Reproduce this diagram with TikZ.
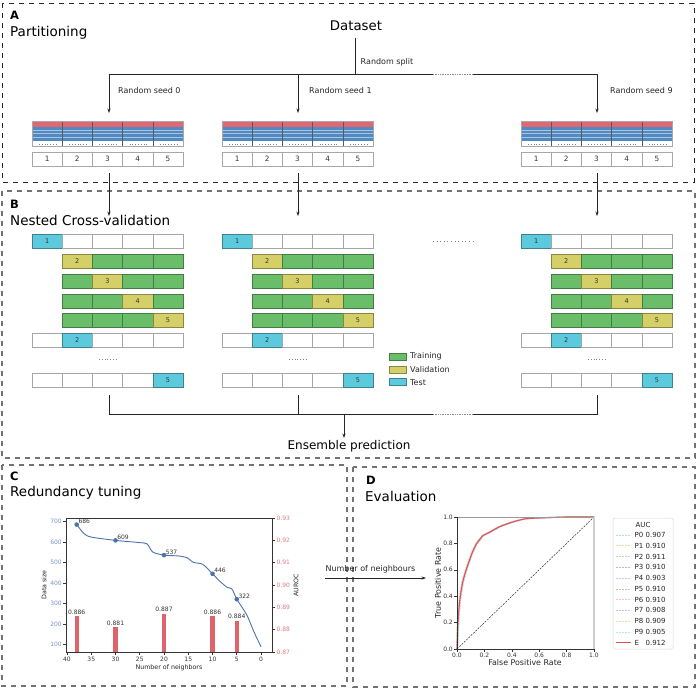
\documentclass[tikz,border=0pt]{standalone}
\usepackage{fontspec}
\setmainfont{DejaVu Sans}
\usetikzlibrary{arrows.meta}
\definecolor{redband}{HTML}{E06872}
\definecolor{blueband}{HTML}{5289C0}
\definecolor{bluelight}{HTML}{A7C6E6}
\definecolor{tstc}{HTML}{5DC9DC}
\definecolor{valc}{HTML}{D4CF67}
\definecolor{trnc}{HTML}{6ABE6A}
\definecolor{cellline}{HTML}{A8A8A8}
\definecolor{lineblue}{HTML}{4C72B0}
\definecolor{tickblue}{HTML}{7A97C9}
\definecolor{barred}{HTML}{E0626B}
\definecolor{tickred}{HTML}{E07A83}
\definecolor{rocred}{HTML}{E0505C}
\definecolor{c0}{HTML}{BBD7EA}
\definecolor{c1}{HTML}{F7CFA4}
\definecolor{c2}{HTML}{BDD6B6}
\definecolor{c3}{HTML}{D8AEC0}
\definecolor{c4}{HTML}{CFC9E8}
\definecolor{c5}{HTML}{D0BDB0}
\definecolor{c6}{HTML}{F4C4D6}
\definecolor{c7}{HTML}{C4C4C4}
\definecolor{c8}{HTML}{E2E2AC}
\definecolor{c9}{HTML}{B8E8EE}

\tikzset{
  conn/.style={line width=0.8pt, draw=black!85},
  arr/.style={conn, -{Stealth[length=4.5pt,width=3.2pt]}},
  dotline/.style={line width=0.8pt, draw=black!45, dash pattern=on 0.8pt off 0.9pt},
  dotsmall/.style={line width=0.6pt, draw=black!50, dash pattern=on 0.6pt off 2.2pt},
  panelA/.style={draw=black!85, line width=0.7pt, dash pattern=on 5pt off 5pt},
  panel/.style={draw=black!55, line width=1.1pt, dash pattern=on 5pt off 5pt},
  heading/.style={font=\fontsize{13.5}{16}\selectfont, inner sep=0, anchor=base west},
  letter/.style={font=\fontsize{11.5}{13}\selectfont\bfseries, inner sep=0, anchor=base west},
  lbl8/.style={font=\fontsize{8}{9}\selectfont, inner sep=0, text=black!85},
  cvcell/.style={minimum width=30.2pt, minimum height=14pt, inner sep=0, outer sep=0, line width=0.6pt, font=\fontsize{6.5}{7}\selectfont, text=black!80},
  numcell/.style={cvcell, draw=cellline, font=\fontsize{7.3}{8}\selectfont},
  swatchbox/.style={minimum width=17pt, minimum height=7pt, inner sep=0, line width=0.6pt},
  axis/.style={draw=black!80, line width=0.6pt},
  ticklbl/.style={font=\fontsize{6}{7}\selectfont, inner sep=0, text=black!80},
  axlbl/.style={font=\fontsize{6.3}{7}\selectfont, inner sep=0, text=black!85},
}

\newcommand{\datatable}[2]{%
  \fill[redband] (#1,121) rectangle ++(151,6);
  \fill[blueband] (#1,127) rectangle ++(151,14);
  \foreach \yy in {130,133.5,137}{\draw[bluelight,line width=0.5pt] (#1,\yy) -- ++(151,0);}
  \fill[white] (#1,141) rectangle ++(151,5.5);
  \foreach \i in {1,2,3,4}{\draw[black!65,line width=0.5pt] ({#1+\i*30.2},121) -- ++(0,25.5);}
  \draw[cellline,line width=0.6pt] (#1,121) rectangle ++(151,25.5);
  \foreach \i [count=\nn] in {0,...,4}{%
    \draw[dotsmall] ({#1+\i*30.2+7},143.8) -- ++(17,0);
    \node[numcell] (#2n\nn) at ({#1+\i*30.2+15.1},159) {\nn};
  }%
}

\newcommand{\cvrow}[5]{%
  \foreach \cl/\tx [count=\i from #3] in {#4}{%
    \node[cvcell,fill=\cl,draw=\cl!65!black] (#5c\i) at ({#1+\i*30.2+15.1},#2) {\tx};
  }%
}

\newcommand{\cvgroup}[2]{%
  \cvrow{#1}{241}{0}{tstc/1,white/{},white/{},white/{},white/{}}{#2a}
  \cvrow{#1}{261}{1}{valc/2,trnc/{},trnc/{},trnc/{}}{#2b}
  \cvrow{#1}{281}{1}{trnc/{},valc/3,trnc/{},trnc/{}}{#2c}
  \cvrow{#1}{301}{1}{trnc/{},trnc/{},valc/4,trnc/{}}{#2d}
  \cvrow{#1}{320.5}{1}{trnc/{},trnc/{},trnc/{},valc/5}{#2e}
  \cvrow{#1}{340.5}{0}{white/{},tstc/2,white/{},white/{},white/{}}{#2f}
  \draw[dotsmall] ({#1+67},359.5) -- ++(17,0);
  \cvrow{#1}{380.3}{0}{white/{},white/{},white/{},white/{},tstc/5}{#2g}
}

\begin{document}
\begin{tikzpicture}[x=1pt,y=-1pt]
\useasboundingbox (0,0) rectangle (700,689);
\fill[white] (0,0) rectangle (700,689);

% ---------- panels ----------
\draw[panelA] (2,3) rectangle (694,182);
\draw[panel] (2,191) rectangle (695,458);
\draw[panel] (2,465) rectangle (347,686);
\draw[panel] (353,467) rectangle (695,687);

% ---------- A ----------
\node[letter] (la) at (10,19) {A};
\node[heading] (ha) at (10,36.6) {Partitioning};
\node[font=\fontsize{13.3}{15}\selectfont, inner sep=0, anchor=base] (dataset) at (356,30) {Dataset};
\node[lbl8, anchor=base west] (rsplit) at (360.5,64) {Random split};
\node[lbl8, anchor=base west] (rs0) at (118,93) {Random seed 0};
\node[lbl8, anchor=base west] (rs1) at (309,93) {Random seed 1};
\node[lbl8, anchor=base west] (rs9) at (610,93) {Random seed 9};

\coordinate (dsb) at (355,38);
\coordinate (split) at (355,74);
\coordinate (hl) at (109,74);
\coordinate (hm) at (298,74);
\coordinate (hr) at (597,74);
\coordinate (gapL) at (433,74);
\coordinate (gapR) at (473,74);
\coordinate (s0) at (109,113);
\coordinate (s1) at (298,113);
\coordinate (s9) at (597,113);
\draw[conn] (dsb) -- (split);
\draw[arr] (gapL) -- (hl) -- (s0);
\draw[dotline] (gapL) -- (gapR);
\draw[arr] (gapR) -- (hr) -- (s9);
\draw[arr] (hm) -- (s1);

\datatable{32}{ta}
\datatable{222}{tb}
\datatable{521}{tc}

% arrows A -> B
\coordinate (t0) at (109,173);
\coordinate (t1) at (298,173);
\coordinate (t9) at (597,173);
\coordinate (b0) at (109,216);
\coordinate (b1) at (298,216);
\coordinate (b9) at (597,216);
\draw[arr] (t0) -- (b0);
\draw[arr] (t1) -- (b1);
\draw[arr] (t9) -- (b9);

% ---------- B ----------
\node[letter] (lb) at (10,208) {B};
\node[heading] (hb) at (10,225) {Nested Cross-validation};

\cvgroup{32}{ga}
\cvgroup{222}{gb}
\cvgroup{521}{gc}
\draw[dotsmall, dash pattern=on 0.6pt off 3pt] (433,241) -- (473,241);

% legend
\node[swatchbox, fill=trnc, draw=trnc!65!black] (legtrn) at (397.5,356.8) {};
\node[swatchbox, fill=valc, draw=valc!65!black] (legval) at (397.5,369.5) {};
\node[swatchbox, fill=tstc, draw=tstc!65!black] (legtst) at (397.5,382.2) {};
\node[lbl8, anchor=west] (ltrn) at (410,356.5) {Training};
\node[lbl8, anchor=west] (lval) at (410,369.5) {Validation};
\node[lbl8, anchor=west] (ltst) at (410,382.2) {Test};

% ensemble lines
\coordinate (e0t) at (109,395);
\coordinate (e1t) at (298,395);
\coordinate (e9t) at (597,395);
\coordinate (e0b) at (109,414);
\coordinate (e1b) at (298,414);
\coordinate (e9b) at (597,414);
\coordinate (egL) at (433,414);
\coordinate (egR) at (473,414);
\coordinate (eout) at (344,414);
\coordinate (ein) at (344,438);
\draw[conn] (e0t) -- (e0b) -- (egL);
\draw[dotline] (egL) -- (egR);
\draw[conn] (egR) -- (e9b) -- (e9t);
\draw[conn] (e1t) -- (e1b);
\draw[arr] (eout) -- (ein);
\node[font=\fontsize{12}{14}\selectfont, inner sep=0, anchor=base] (ens) at (349,449.5) {Ensemble prediction};

% ---------- C ----------
\node[letter] (lc) at (10,480) {C};
\node[heading] (hc) at (10,496.6) {Redundancy tuning};

\foreach \v in {100,200,...,700}{
  \pgfmathsetmacro\yy{521.7+(700-\v)*0.205}
  \draw[axis] (66,\yy) -- (63,\yy);
  \node[ticklbl, text=tickblue, anchor=east] (cl\v) at (62,\yy) {\v};
}
\foreach \lbl [count=\k from 0] in {0.87,0.88,0.89,0.90,0.91,0.92,0.93}{
  \pgfmathsetmacro\yy{652-\k*22.33}
  \draw[axis] (272,\yy) -- (275,\yy);
  \node[ticklbl, text=tickred, anchor=west] (cr\k) at (276.5,\yy) {\lbl};
}
\foreach \nn in {40,35,...,0}{
  \pgfmathsetmacro\xx{67+(40-\nn)*4.85}
  \draw[axis] (\xx,652) -- (\xx,655);
  \node[ticklbl, anchor=north] (cb\nn) at (\xx,656.5) {\nn};
}
\node[axlbl, rotate=90] (dsz) at (44,585) {Data size};
\node[axlbl, rotate=90] (auroc) at (296,585) {AUROC};
\node[axlbl] (nnb) at (169,667.5) {Number of neighbors};

\foreach \nn/\a in {38/0.886,30/0.881,20/0.887,10/0.886,5/0.884}{
  \pgfmathsetmacro\xx{67+(40-\nn)*4.85}
  \pgfmathsetmacro\yy{652-(\a-0.87)*2233}
  \fill[barred] (\xx-2.2,\yy) rectangle (\xx+2.2,652);
  \node[ticklbl, anchor=south] (bar\nn) at (\xx,\yy-1.8) {\a};
}

\begin{scope}[shift={(261,665.2)}, x=-4.85pt, y=0.205pt]
  \draw[lineblue, line width=0.9pt] plot[smooth, tension=0.45] coordinates {
    (38,686) (36.5,642) (35,625) (30,609) (25,598) (23.5,592) (22.3,552) (20,537)
    (17,533) (15.2,524) (14,502) (12,492) (10,446) (8.5,410) (7,380) (6,372)
    (5,322) (3.5,268) (2.7,234) (1.5,165) (0,90)};
  \foreach \nn/\v in {38/686,30/609,20/537,10/446,5/322}{
    \fill[lineblue] (\nn,\v) circle (2.3pt);
    \node[ticklbl, anchor=south west, xshift=1.6pt, yshift=0.8pt] (pt\nn) at (\nn,\v) {\v};
  }
\end{scope}
\draw[axis] (66,518) rectangle (272,652);

% C -> D arrow
\node[lbl8, anchor=base] (nnlbl) at (370.5,571) {Number of neighbours};
\coordinate (cd1) at (325,578);
\coordinate (cd2) at (426,578);
\draw[arr] (cd1) -- (cd2);

% ---------- D ----------
\node[letter] (ld) at (366,484) {D};
\node[heading] (hd) at (365,501.6) {Evaluation};

\foreach \v [count=\k] in {0.0,0.2,0.4,0.6,0.8,1.0}{
  \pgfmathsetmacro\xx{457+\v*137}
  \pgfmathsetmacro\yy{649-\v*132}
  \draw[axis] (\xx,649) -- (\xx,652);
  \node[ticklbl, anchor=north] (rx\k) at (\xx,653) {\v};
  \draw[axis] (457,\yy) -- (454,\yy);
  \node[ticklbl, anchor=east] (ry\k) at (453,\yy) {\v};
}
\node[font=\fontsize{7.9}{9}\selectfont, inner sep=0, text=black!85] (fpr) at (525,663) {False Positive Rate};
\node[font=\fontsize{7.9}{9}\selectfont, inner sep=0, text=black!85, rotate=90] (tpr) at (438,583) {True Positive Rate};

\begin{scope}[shift={(457,649)}, x=137pt, y=132pt]
  \draw[black!80, line width=0.5pt, dash pattern=on 2pt off 1.2pt] (0,0) -- (1,1);
  \foreach \col/\sh in {c0/0.7,c1/-0.4,c2/0.3,c3/-0.7,c4/1.0,c5/0.1,c6/-0.2,c7/0.5,c8/-0.9,c9/0.8}{
    \draw[draw=\col, line width=0.7pt, dash pattern=on 2pt off 1pt, xshift=\sh pt, yshift=-0.3*\sh pt] plot[smooth, tension=0.4] coordinates {
      (0,0) (0.004,0.12) (0.01,0.25) (0.018,0.35) (0.027,0.42) (0.04,0.5) (0.055,0.56)
      (0.07,0.61) (0.09,0.67) (0.115,0.74) (0.144,0.8) (0.17,0.835) (0.19,0.86)
      (0.23,0.88) (0.28,0.91) (0.33,0.935) (0.4,0.96) (0.45,0.975) (0.5,0.987)
      (0.6,0.993) (0.7,0.997) (0.8,1) (1,1)};
  }
  \draw[rocred, line width=1.1pt] plot[smooth, tension=0.4] coordinates {
      (0,0) (0.004,0.12) (0.01,0.25) (0.018,0.35) (0.027,0.42) (0.04,0.5) (0.055,0.56)
      (0.07,0.61) (0.09,0.67) (0.115,0.74) (0.144,0.8) (0.17,0.835) (0.19,0.86)
      (0.23,0.88) (0.28,0.91) (0.33,0.935) (0.4,0.96) (0.45,0.975) (0.5,0.987)
      (0.6,0.993) (0.7,0.997) (0.8,1) (1,1)};
\end{scope}
\draw[black!40, line width=0.6pt] (457,517) -- (594,517);
\draw[black!20, line width=1.5pt] (594,517) -- (594,649);
\draw[axis] (457,517) -- (457,649) -- (594,649);

% legend
\draw[black!15, line width=0.5pt, rounded corners=1.5pt, fill=white] (613,518) rectangle (673,649);
\node[font=\fontsize{7}{8}\selectfont, inner sep=0, text=black!85] (auc) at (643,524.5) {AUC};
\foreach \nm/\col [count=\k from 0] in {P0 0.907/c0,P1 0.910/c1,P2 0.911/c2,P3 0.910/c3,P4 0.903/c4,P5 0.910/c5,P6 0.910/c6,P7 0.908/c7,P8 0.909/c8,P9 0.905/c9}{
  \pgfmathsetmacro\yy{535+\k*10.77}
  \draw[draw=\col, line width=0.7pt, dash pattern=on 2pt off 1pt] (615.5,\yy) -- (630.5,\yy);
  \node[font=\fontsize{7}{8}\selectfont, inner sep=0, text=black!85, anchor=west] (leg\k) at (634.5,\yy) {\nm};
}
\draw[rocred, line width=1.1pt] (615.5,642.7) -- (630.5,642.7);
\node[font=\fontsize{7}{8}\selectfont, inner sep=0, text=black!85, anchor=west] (legE) at (634.5,642.7) {\rlap{E}\phantom{P0} 0.912};

\end{tikzpicture}
\end{document}
